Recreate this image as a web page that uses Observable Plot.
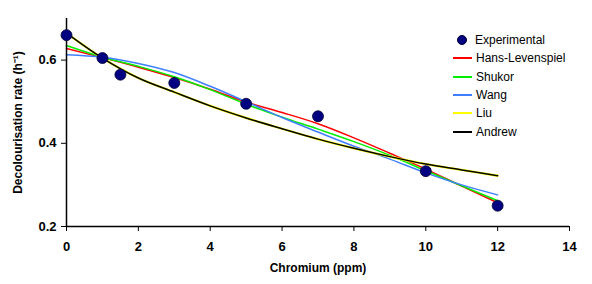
<!DOCTYPE html>
<html>
<head>
<meta charset="utf-8">
<script src="https://cdn.jsdelivr.net/npm/d3@7"></script>
<script src="https://cdn.jsdelivr.net/npm/@observablehq/plot@0.6"></script>
<style>
  body { margin: 0; background: #fff; font-family: "Liberation Sans", Arial, sans-serif; }
  #wrap { position: relative; width: 592px; height: 284px; }
  #legend { position: absolute; left: 453px; top: 31px; font-size: 12px; color: #000; }
  .item { position: relative; height: 18.3px; display: flex; align-items: center; }
  .sw { width: 19px; height: 2px; margin-right: 4px; }
  .dot { width: 10px; height: 10px; border-radius: 50%; background: #000080; margin: 0 8px 0 4px; box-sizing: border-box; border: 1px solid #000033; }
</style>
</head>
<body>
<div id="wrap"><div id="chart"></div><div id="legend"></div></div>
<script>
// Experimental data
const expX = [0, 1, 1.5, 3, 5, 7, 10, 12];
const expY = [0.66, 0.605, 0.565, 0.545, 0.495, 0.465, 0.333, 0.25];

// Model curves
const modelX = [0, 1, 2, 3, 4, 5, 6, 7, 8, 9, 10, 11, 12];
const hans   = [0.628, 0.606, 0.583, 0.558, 0.530, 0.499, 0.474, 0.447, 0.413, 0.376, 0.338, 0.297, 0.257];
const shukor = [0.635, 0.607, 0.585, 0.560, 0.529, 0.494, 0.463, 0.434, 0.404, 0.371, 0.334, 0.298, 0.262];
const wang   = [0.613, 0.607, 0.592, 0.570, 0.537, 0.500, 0.462, 0.427, 0.393, 0.362, 0.329, 0.300, 0.276];
const liu    = [0.665, 0.605, 0.557, 0.523, 0.490, 0.461, 0.435, 0.410, 0.388, 0.368, 0.350, 0.336, 0.322];
const andrew = [0.665, 0.605, 0.557, 0.523, 0.490, 0.461, 0.435, 0.410, 0.388, 0.368, 0.350, 0.336, 0.322];

const seriesNames = ["Hans-Levenspiel", "Shukor", "Wang", "Liu", "Andrew"];
const seriesColors = ["#ff0000", "#00ee00", "#3f7fff", "#ffff00", "#000000"];
const seriesValues = [hans, shukor, wang, liu, andrew];
const xTicks = [0, 2, 4, 6, 8, 10, 12, 14];
const yTicks = [0.2, 0.4, 0.6];

const exp = expX.map((x, i) => ({x, y: expY[i]}));
const lineRows = (vals, name) => modelX.map((x, i) => ({x, y: vals[i], name}));

const marks = seriesNames.map((name, i) => Plot.line(lineRows(seriesValues[i], name), {
  x: "x", y: "y", stroke: seriesColors[i],
  strokeWidth: name === "Liu" ? 2.3 : 1.5,
  curve: "monotone-x"
}));

const chart = Plot.plot({
  width: 592,
  height: 284,
  marginLeft: 66,
  marginRight: 23,
  marginTop: 18,
  marginBottom: 58,
  style: { fontFamily: "'Liberation Sans', Arial, sans-serif", background: "#fff", color: "#000" },
  x: { domain: [0, 14] },
  y: { domain: [0.2, 0.7] },
  marks: [
    Plot.axisX({ ticks: xTicks, tickSize: 5, tickPadding: 10, fontSize: 13, fontWeight: "bold",
      tickFormat: d => String(d), label: null }),
    Plot.axisY({ ticks: yTicks, tickSize: 5, tickPadding: 5, fontSize: 13, fontWeight: "bold",
      tickFormat: d => d.toFixed(1), label: null }),
    Plot.text(["Chromium (ppm)"], { frameAnchor: "bottom", dy: 45, fontSize: 12, fontWeight: "bold" }),
    Plot.text(["Decolourisation rate (h⁻¹)"], { frameAnchor: "left", dx: -48, rotate: -90, textAnchor: "middle", fontSize: 12, fontWeight: "bold" }),
    ...marks,
    Plot.ruleY([0.2], { stroke: "#000", strokeWidth: 1.5 }),
    Plot.ruleX([0], { stroke: "#000", strokeWidth: 1.5 }),
    Plot.dot(exp, { x: "x", y: "y", r: 5.5, fill: "#000080", stroke: "#000033", strokeWidth: 0.8 })
  ]
});
document.getElementById("chart").append(chart);

// legend
const legend = document.getElementById("legend");
const e = document.createElement("div");
e.className = "item";
e.innerHTML = '<span class="dot"></span><span>Experimental</span>';
legend.append(e);
seriesNames.forEach((n, i) => {
  const d = document.createElement("div");
  d.className = "item";
  d.innerHTML = `<span class="sw" style="background:${seriesColors[i]}"></span><span>${n}</span>`;
  legend.append(d);
});
</script>
</body>
</html>
